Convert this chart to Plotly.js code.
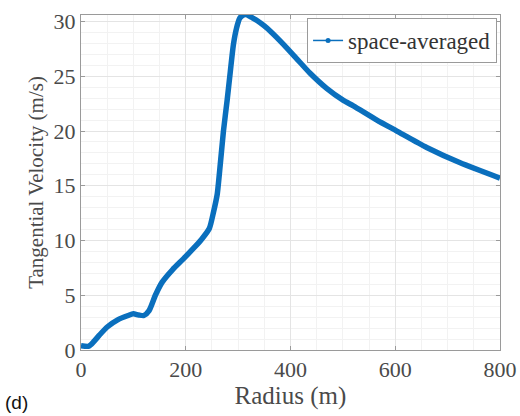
<!DOCTYPE html>
<html>
<head>
<meta charset="utf-8">
<script src="https://cdn.plot.ly/plotly-3.0.1.min.js"></script>
<style>
html,body{margin:0;padding:0;background:#fff;}
#chart{width:520px;height:416px;}
</style>
</head>
<body>
<div id="chart"></div>
<script>
const radius = [0, 15, 25, 35, 50, 70, 90, 100, 110, 120, 130, 142, 155, 175, 195, 215, 230, 245, 253, 260, 266, 272, 279, 285, 291, 297, 303, 310, 316, 325, 336, 350, 362, 387, 412, 437, 469, 501, 520, 565, 603, 660, 724, 800];
const velocity = [0.4, 0.35, 0.8, 1.35, 2.1, 2.75, 3.15, 3.3, 3.2, 3.15, 3.6, 5.0, 6.2, 7.35, 8.3, 9.3, 10.1, 11.1, 12.6, 14.2, 17.0, 20.0, 22.8, 25.4, 27.9, 29.4, 30.3, 30.6, 30.65, 30.4, 30.1, 29.6, 29.1, 27.9, 26.6, 25.3, 23.9, 22.8, 22.3, 21.0, 20.0, 18.5, 17.1, 15.7];
const seriesName = 'space-averaged';
const xTicks = [0, 200, 400, 600, 800];
const yTicks = [0, 5, 10, 15, 20, 25, 30];

const blue = '#0a6fbd';
const serif = 'Liberation Serif, Times New Roman, serif';

const traces = [
  {
    x: radius, y: velocity, type: 'scatter', mode: 'lines',
    line: {color: blue, width: 5.5, shape: 'spline', smoothing: 0.6},
    showlegend: false, hoverinfo: 'skip'
  },
  {
    x: [null], y: [null], type: 'scatter', mode: 'lines+markers', name: seriesName,
    line: {color: blue, width: 1.5}, marker: {color: blue, size: 5}
  }
];

const axisCommon = {
  showline: true, linecolor: '#9a9a9a', linewidth: 1, mirror: 'ticks',
  ticks: 'inside', ticklen: 4, tickcolor: '#9a9a9a',
  showgrid: true, gridcolor: '#e4e4e4', gridwidth: 1,
  zeroline: false,
  tickfont: {family: serif, size: 22, color: '#4a4a4a'}
};

const layout = {
  width: 520, height: 416,
  margin: {l: 81, r: 20, t: 15, b: 66},
  paper_bgcolor: '#fff', plot_bgcolor: '#fff',
  xaxis: Object.assign({}, axisCommon, {
    range: [0, 800], tickvals: xTicks, ticktext: xTicks.map(String),
    minor: {dtick: 50, showgrid: true, gridcolor: '#f2f2f2', ticks: ''},
    ticklabelstandoff: 0,
    title: {text: 'Radius (m)', font: {family: serif, size: 25, color: '#4a4a4a'}, standoff: 2}
  }),
  yaxis: Object.assign({}, axisCommon, {
    range: [0, 30.6], tickvals: yTicks, ticktext: yTicks.map(String),
    minor: {dtick: 1, showgrid: true, gridcolor: '#f2f2f2', ticks: ''},
    title: {text: 'Tangential Velocity (m/s)', font: {family: serif, size: 21, color: '#4a4a4a'}, standoff: 4}
  }),
  legend: {
    x: 0.993, y: 0.991, xanchor: 'right', yanchor: 'top',
    bgcolor: '#fff', bordercolor: '#9a9a9a', borderwidth: 1,
    font: {family: serif, size: 23, color: '#333'},
    itemwidth: 30, tracegroupgap: 0
  },
  annotations: [{
    text: '(d)', xref: 'paper', yref: 'paper', x: -0.185, y: -0.158,
    xanchor: 'left', yanchor: 'middle', showarrow: false,
    font: {family: 'Liberation Sans, Arial, sans-serif', size: 19, color: '#111'}
  }]
};

Plotly.newPlot('chart', traces, layout, {displayModeBar: false, staticPlot: true});
</script>
</body>
</html>
